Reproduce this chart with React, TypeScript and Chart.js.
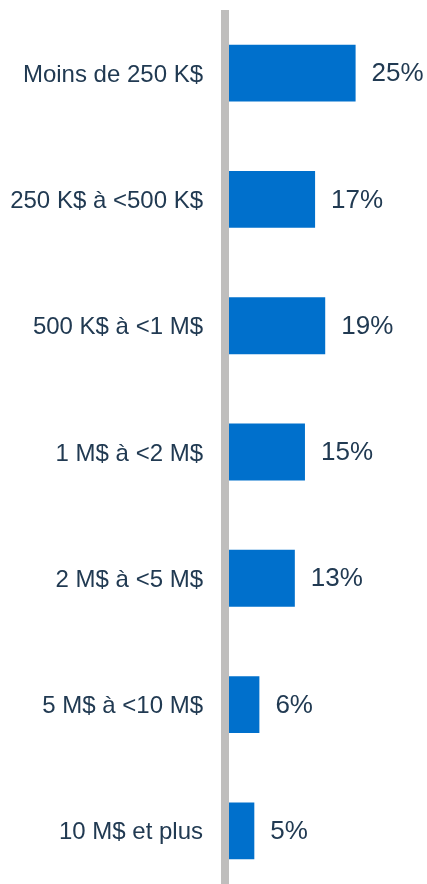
import React, { useEffect, useRef } from "react";
import { Chart, registerables } from "chart.js";
Chart.register(...registerables);

const categories = [
  "Moins de 250 K$",
  "250 K$ à <500 K$",
  "500 K$ à <1 M$",
  "1 M$ à <2 M$",
  "2 M$ à <5 M$",
  "5 M$ à <10 M$",
  "10 M$ et plus",
];
const values = [25, 17, 19, 15, 13, 6, 5];
const valueLabels = ["25%", "17%", "19%", "15%", "13%", "6%", "5%"];

const FONT = '"Liberation Sans", Arial, Helvetica, sans-serif';
const TEXT = "#213A52";
const BAR = "#0070CC";
const AXIS = "#BFBEBD";

export default function App() {
  const ref = useRef<HTMLCanvasElement>(null);
  useEffect(() => {
    document.body.style.margin = "0";
    const axisLine = {
      id: "axisLine",
      beforeDatasetsDraw(chart: any) {
        const { ctx, chartArea } = chart;
        ctx.save();
        ctx.fillStyle = AXIS;
        ctx.fillRect(chartArea.left - 8, chartArea.top, 8, chart.height - chartArea.top);
        ctx.restore();
      },
    };
    const valueLabelsPlugin = {
      id: "valueLabels",
      afterDatasetsDraw(chart: any) {
        const { ctx } = chart;
        const meta = chart.getDatasetMeta(0);
        ctx.save();
        ctx.fillStyle = TEXT;
        ctx.font = `26px ${FONT}`;
        ctx.textAlign = "left";
        ctx.textBaseline = "middle";
        meta.data.forEach((bar: any, i: number) => {
          ctx.fillText(valueLabels[i], bar.x + 16, bar.y + 1);
        });
        ctx.restore();
      },
    };
    const chart = new Chart(ref.current!, {
      type: "bar",
      data: {
        labels: categories,
        datasets: [
          {
            data: values,
            backgroundColor: BAR,
            barPercentage: 0.9,
            categoryPercentage: 0.5,
          },
        ],
      },
      options: {
        indexAxis: "y",
        animation: false,
        responsive: true,
        maintainAspectRatio: false,
        layout: { padding: { top: 10, right: 0, bottom: 0, left: 0 } },
        plugins: { legend: { display: false }, tooltip: { enabled: false } },
        scales: {
          x: { display: false, min: 0, max: 39.1 },
          y: {
            grid: { display: false, drawTicks: false },
            border: { display: false },
            ticks: {
              color: TEXT,
              font: { family: FONT, size: 24 },
              padding: 26,
              labelOffset: 2,
              autoSkip: false,
            },
            afterFit(scale: any) {
              scale.width = 229;
              scale.paddingTop = 0;
              scale.paddingBottom = 0;
            },
          },
        },
      },
      plugins: [axisLine, valueLabelsPlugin],
    });
    return () => chart.destroy();
  }, []);
  return (
    <div style={{ position: "absolute", left: 0, top: 0, width: 427, height: 884, overflow: "hidden" }}>
      <div style={{ position: "relative", width: 427, height: 894 }}>
        <canvas ref={ref} />
      </div>
    </div>
  );
}
